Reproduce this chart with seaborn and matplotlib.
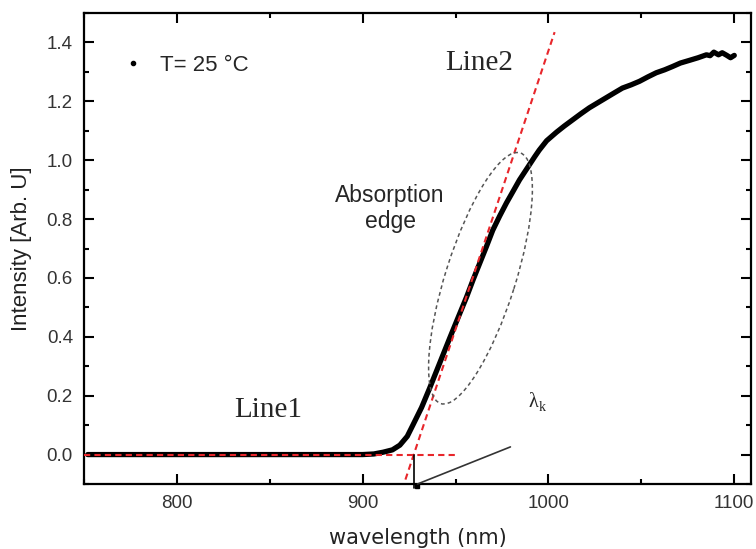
import numpy as np
import pandas as pd
import matplotlib
matplotlib.use("Agg")
import matplotlib.pyplot as plt
import matplotlib.transforms as mtransforms
from matplotlib.patches import Ellipse
from matplotlib.lines import Line2D
from matplotlib.ticker import MultipleLocator
import seaborn as sns

# ---------------- data ----------------
wavelength = [752, 780, 820, 860, 900, 906, 911, 916, 920, 924, 927, 931.7, 936,
              941.4, 946.8, 951, 955.9, 959.5, 963, 966.5, 970, 973.7, 977.4, 981,
              984.4, 987, 989.8, 992.5, 995, 999, 1004.3, 1008.5, 1013, 1017.5,
              1022, 1026.5, 1031, 1035.5, 1039.8, 1044.5, 1049, 1053.5, 1058,
              1062.5, 1066.7, 1071, 1075.8, 1080.5, 1085, 1087, 1089, 1091.5,
              1093.5, 1096, 1098, 1100]
intensity = [0.0, 0.0, 0.0, 0.0, 0.0, 0.002, 0.008, 0.016, 0.032, 0.062, 0.10,
             0.16, 0.225, 0.31, 0.395, 0.46, 0.535, 0.595, 0.65, 0.705, 0.762,
             0.81, 0.855, 0.895, 0.933, 0.958, 0.985, 1.011, 1.034, 1.066, 1.095,
             1.116, 1.137, 1.158, 1.178, 1.195, 1.212, 1.229, 1.245, 1.256, 1.268,
             1.283, 1.297, 1.307, 1.318, 1.33, 1.339, 1.348, 1.358, 1.355, 1.367,
             1.358, 1.365, 1.356, 1.348, 1.356]

line1_x = [750, 950]
line1_y = [0.0, 0.0]
line2_x = [923.0, 1003.3]
line2_y = [-0.085, 1.435]

x_ticks = [800, 900, 1000, 1100]
y_ticks = [0.0, 0.2, 0.4, 0.6, 0.8, 1.0, 1.2, 1.4]
y_tick_labels = ["0.0", "0.2", "0.4", "0.6", "0.8", "1.0", "1.2", "1.4"]
legend_label = "T= 25 °C"
x_label = "wavelength (nm)"
y_label = "Intensity [Arb. U]"

# ---------------- style ----------------
sns.set_theme(style="ticks")
plt.rcParams["font.family"] = ["Liberation Sans", "DejaVu Sans"]

W, H = 756, 549
fig = plt.figure(figsize=(W / 100, H / 100), dpi=100)
ax = fig.add_axes([84 / W, 1 - 484 / H, 667 / W, 471 / H])

df = pd.DataFrame({"wavelength": wavelength, "intensity": intensity})
sns.lineplot(data=df, x="wavelength", y="intensity", ax=ax, color="black",
             lw=3.8, solid_capstyle="round", solid_joinstyle="round", zorder=2)

red = "#e8262b"
ax.plot(line1_x, line1_y, color=red, lw=1.5, ls=(0, (3, 2)), zorder=3)
ax.plot(line2_x, line2_y, color=red, lw=1.5, ls=(0, (3, 2)), zorder=3)

# lambda_k: intercept of Line2 with Line1
slope = (line2_y[1] - line2_y[0]) / (line2_x[1] - line2_x[0])
lam_k = line2_x[0] - line2_y[0] / slope

ax.set_xlim(750, 1109)
ax.set_ylim(-0.1, 1.5)

ax.plot([lam_k, lam_k], [0.0, -0.112], color="black", lw=1.2, clip_on=False, zorder=4)
ax.plot([lam_k + 1.5], [-0.106], marker="s", ms=3.5, color="black", clip_on=False, zorder=4)
ax.plot([lam_k + 2.0, 979.5], [-0.1, 0.026], color="#333333", lw=1.2, clip_on=False, zorder=4)
ax.text(989.5, 0.162, "λ", family="Liberation Serif", fontsize=14.5, ha="left", va="baseline")
ax.annotate("k", xy=(989.5, 0.162), xytext=(7, -3), textcoords="offset points",
            family="Liberation Serif", fontsize=10, ha="left", va="baseline")

# dashed ellipse around absorption edge (size in pixels, centred in data coords)
trans = mtransforms.Affine2D() + mtransforms.ScaledTranslation(963.4, 0.599, ax.transData)
ell = Ellipse((0, 0), width=263, height=70, angle=72.4, transform=trans, fill=False,
              ec="#555555", lw=1.1, ls=(0, (2.5, 2)), zorder=3)
ax.add_patch(ell)

# annotations
ax.text(962.6, 1.308, "Line2", family="Liberation Serif", fontsize=21, ha="center", va="baseline")
ax.text(849.2, 0.128, "Line1", family="Liberation Serif", fontsize=21, ha="center", va="baseline")
ax.text(914.7, 0.858, "Absorption", fontsize=16.5, ha="center", va="baseline")
ax.text(914.7, 0.769, "edge", fontsize=16.5, ha="center", va="baseline")

# legend
h = Line2D([], [], marker="o", ms=3.0, color="black", ls="none")
ax.legend(handles=[h], labels=[legend_label], loc="center left",
          bbox_to_anchor=(0.057, 0.889), frameon=False, fontsize=16,
          handlelength=1.0, handletextpad=0.71, borderpad=0, borderaxespad=0)

# axes / ticks
ax.set_xticks(x_ticks)
ax.set_yticks(y_ticks)
ax.set_yticklabels(y_tick_labels)
ax.xaxis.set_minor_locator(MultipleLocator(50))
ax.yaxis.set_minor_locator(MultipleLocator(0.1))
ax.tick_params(which="both", direction="in", top=True, right=True, width=1.5,
               color="black", labelcolor="#333333", labelsize=13.5, pad=8)
ax.tick_params(which="major", length=7)
ax.tick_params(which="minor", length=3.5)
for s in ax.spines.values():
    s.set_linewidth(1.6)
    s.set_color("black")

ax.set_xlabel(x_label, family="DejaVu Sans", fontsize=15, color="#222222")
ax.set_ylabel(y_label, fontsize=16, color="#222222")
ax.xaxis.set_label_coords(0.5, -0.093)
ax.yaxis.set_label_coords(-0.078, 0.5)

fig.savefig("out.png", dpi=100)
